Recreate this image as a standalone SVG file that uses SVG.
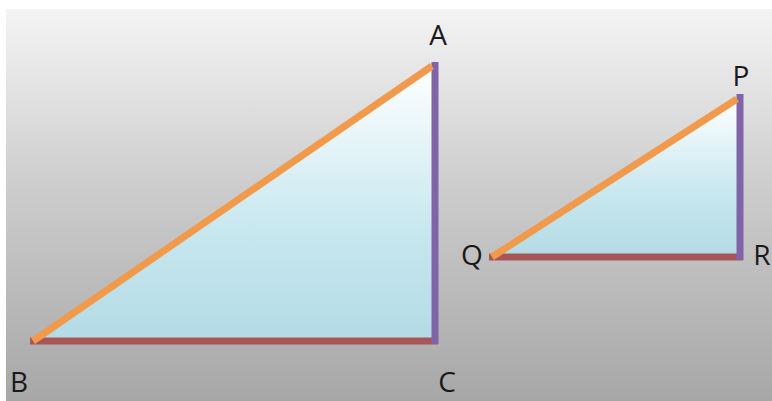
<svg xmlns="http://www.w3.org/2000/svg" width="772" height="401" viewBox="0 0 772 401">
  <defs>
    <linearGradient id="bg" x1="0" y1="0" x2="0" y2="1">
      <stop offset="0" stop-color="#f4f4f4"/>
      <stop offset="0.45" stop-color="#cdcdcd"/>
      <stop offset="1" stop-color="#a7a7a7"/>
    </linearGradient>
    <linearGradient id="fillBig" x1="0" y1="0" x2="0" y2="1">
      <stop offset="0" stop-color="#ffffff"/>
      <stop offset="0.6" stop-color="#c8e7ef"/>
      <stop offset="1" stop-color="#b3dbe5"/>
    </linearGradient>
    <style>
      .lbl { font-family: "Open Sans", "Liberation Sans", sans-serif; font-size: 28px; fill: #1a1a1a; }
      .hyp { stroke: #f29a4c; stroke-width: 7; stroke-linecap: butt; fill: none; }
      .leg { stroke: #8064a8; stroke-width: 7; fill: none; }
      .base { stroke: #a65656; stroke-width: 7; fill: none; }
    </style>
  </defs>
  <rect x="0" y="0" width="772" height="401" fill="#ffffff"/>
  <rect x="6" y="9" width="766" height="392" fill="url(#bg)"/>

  <g id="triangle-ABC">
    <polygon points="33,341 435,65 435,341" fill="url(#fillBig)"/>
    <line class="base" x1="30" y1="341" x2="438" y2="341"/>
    <line class="leg" x1="435" y1="62" x2="435" y2="344"/>
    <line class="hyp" x1="33" y1="341" x2="432" y2="66"/>
  </g>
  <g id="triangle-PQR">
    <polygon points="492,257 740,97 740,257" fill="url(#fillBig)"/>
    <line class="base" x1="489" y1="257" x2="743" y2="257"/>
    <line class="leg" x1="740" y1="94" x2="740" y2="260"/>
    <line class="hyp" x1="492" y1="257" x2="737" y2="99"/>
  </g>

  <g id="labels">
    <text class="lbl" x="438" y="45" text-anchor="middle">A</text>
    <text class="lbl" x="19" y="392" text-anchor="middle">B</text>
    <text class="lbl" x="447" y="392" text-anchor="middle">C</text>
    <text class="lbl" x="741" y="86" text-anchor="middle">P</text>
    <text class="lbl" x="472" y="265" text-anchor="middle">Q</text>
    <text class="lbl" x="762" y="265" text-anchor="middle">R</text>
  </g>
</svg>
